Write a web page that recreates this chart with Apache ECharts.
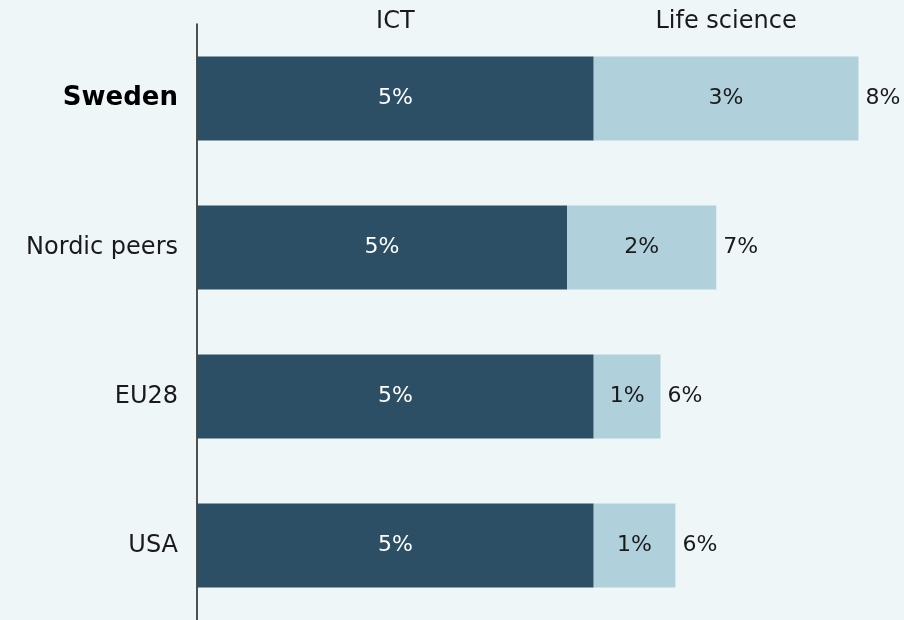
<!DOCTYPE html>
<html>
<head>
<meta charset="utf-8">
<style>
  html, body { margin: 0; padding: 0; background: #eef6f8; }
  #chart { width: 904px; height: 620px; }
</style>
<script src="https://cdn.jsdelivr.net/npm/echarts@6/dist/echarts.min.js"></script>
</head>
<body>
<div id="chart"></div>
<script>
// Share of employment by sector (%), per region
const regions = ['Sweden', 'Nordic peers', 'EU28', 'USA'];
const ictShare = [5.05, 4.71, 5.05, 5.05];
const lifeScienceShare = [3.37, 1.90, 0.85, 1.04];
const seriesNames = ['ICT', 'Life science'];

const totals = ictShare.map((v, i) => v + lifeScienceShare[i]);
const pct = v => Math.round(v) + '%';

const FONT = 'DejaVu Sans';
const TEXT = '#1a1a1a';
const chart = echarts.init(document.getElementById('chart'));

chart.setOption({
  backgroundColor: '#eef6f8',
  animation: false,
  grid: { left: 197, right: 0, top: 24, bottom: -2, containLabel: false },
  xAxis: {
    type: 'value', min: 0, max: 9,
    show: false
  },
  yAxis: {
    type: 'category',
    inverse: true,
    data: regions,
    axisLine: { show: true, lineStyle: { color: TEXT, width: 1.5 } },
    axisTick: { show: false },
    axisLabel: {
      margin: 19,
      fontFamily: FONT,
      fontSize: 24,
      color: TEXT,
      formatter: v => v === 'Sweden' ? '{b|' + v + '}' : v,
      rich: {
        b: { fontFamily: FONT, fontWeight: 'bold', fontSize: 26, color: '#000' }
      }
    }
  },
  series: [
    {
      name: seriesNames[0],
      type: 'bar',
      stack: 'share',
      barWidth: 84,
      data: ictShare,
      itemStyle: { color: '#2c4f65' },
      label: {
        show: true, position: 'inside',
        color: '#ffffff', fontFamily: FONT, fontSize: 22,
        formatter: p => pct(p.value)
      },
      markPoint: {
        symbol: 'circle', symbolSize: 0,
        label: {
          show: true, position: 'inside', offset: [0, -77],
          color: TEXT, fontFamily: FONT, fontSize: 24,
          formatter: () => seriesNames[0]
        },
        data: [{ coord: [ictShare[0] / 2, regions[0]] }]
      }
    },
    {
      name: seriesNames[1],
      type: 'bar',
      stack: 'share',
      barWidth: 84,
      data: lifeScienceShare,
      itemStyle: { color: '#b0d0dc' },
      label: {
        show: true, position: 'inside',
        color: TEXT, fontFamily: FONT, fontSize: 22,
        formatter: p => pct(p.value)
      },
      markPoint: {
        symbol: 'circle', symbolSize: 0,
        label: {
          show: true, position: 'inside', offset: [0, -77],
          color: TEXT, fontFamily: FONT, fontSize: 24,
          formatter: () => seriesNames[1]
        },
        data: [{ coord: [ictShare[0] + lifeScienceShare[0] / 2, regions[0]] }]
      }
    },
    {
      name: 'Total',
      type: 'bar',
      barWidth: 84,
      barGap: '-100%',
      z: 1,
      silent: true,
      data: totals,
      itemStyle: { color: 'rgba(0,0,0,0)' },
      label: {
        show: true, position: 'right', distance: 7,
        color: TEXT, fontFamily: FONT, fontSize: 22,
        formatter: p => pct(p.value)
      }
    }
  ]
});
</script>
</body>
</html>
